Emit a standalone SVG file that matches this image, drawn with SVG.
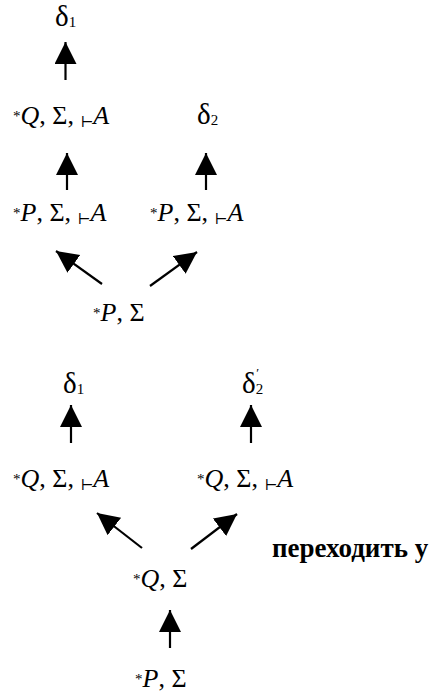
<svg xmlns="http://www.w3.org/2000/svg" width="438" height="692" viewBox="0 0 438 692">
<style>
text{font-family:"Liberation Serif","DejaVu Serif",serif;fill:#000}
.m{font-size:26px}
.d{font-size:29px}
.sub{font-size:15px}
.pr{font-size:13px}
.s{font-size:15px}
.t{font-size:15px;font-family:"DejaVu Serif",serif}
.i{font-style:italic}
.ru{font-size:27px;font-weight:bold}
.c line{stroke:#000;stroke-width:2.2}
</style>
<defs>
<marker id="ah" markerUnits="userSpaceOnUse" markerWidth="24" markerHeight="24" refX="22" refY="11" orient="auto" viewBox="0 0 24 24">
<path d="M0,0 L22,11 L0,22 z" fill="#000"/>
</marker>
</defs>
<rect width="438" height="692" fill="#fff"/>
<g class="c" id="connectors">
<line x1="65.5" y1="80" x2="65.5" y2="42" marker-end="url(#ah)"/>
<line x1="67" y1="190" x2="67" y2="153" marker-end="url(#ah)"/>
<line x1="206" y1="190" x2="206" y2="153" marker-end="url(#ah)"/>
<line x1="102" y1="284" x2="56" y2="251" marker-end="url(#ah)"/>
<line x1="150" y1="286" x2="197" y2="252" marker-end="url(#ah)"/>
<line x1="71" y1="443" x2="71" y2="405" marker-end="url(#ah)"/>
<line x1="251" y1="443" x2="251" y2="405" marker-end="url(#ah)"/>
<line x1="142" y1="548" x2="97" y2="513" marker-end="url(#ah)"/>
<line x1="191" y1="549" x2="237" y2="514" marker-end="url(#ah)"/>
<line x1="170" y1="648" x2="170" y2="610" marker-end="url(#ah)"/>
</g>
<g id="n1"><text class="d" x="55" y="26">δ<tspan class="sub" dy="1">1</tspan></text></g>
<g id="n2"><text class="m" x="13" y="124"><tspan class="s" dy="-3">*</tspan><tspan class="i" dy="3">Q</tspan>, Σ, <tspan class="t" dy="3">⊢</tspan><tspan class="i" dy="-3">A</tspan></text></g>
<g id="n3"><text class="d" x="197" y="124">δ<tspan class="sub" dy="1">2</tspan></text></g>
<g id="n4"><text class="m" x="13" y="221"><tspan class="s" dy="-3">*</tspan><tspan class="i" dy="3">P</tspan>, Σ, <tspan class="t" dy="3">⊢</tspan><tspan class="i" dy="-3">A</tspan></text></g>
<g id="n5"><text class="m" x="150" y="221"><tspan class="s" dy="-3">*</tspan><tspan class="i" dy="3">P</tspan>, Σ, <tspan class="t" dy="3">⊢</tspan><tspan class="i" dy="-3">A</tspan></text></g>
<g id="n6"><text class="m" x="93" y="321"><tspan class="s" dy="-3">*</tspan><tspan class="i" dy="3">P</tspan>, Σ</text></g>
<g id="n7"><text class="d" x="63" y="393">δ<tspan class="sub" dy="1">1</tspan></text></g>
<g id="n8"><text class="d" x="242" y="393">δ<tspan class="sub" dy="1">2</tspan><tspan class="pr" dx="-7" dy="-17">′</tspan></text></g>
<g id="n9"><text class="m" x="13" y="487"><tspan class="s" dy="-3">*</tspan><tspan class="i" dy="3">Q</tspan>, Σ, <tspan class="t" dy="3">⊢</tspan><tspan class="i" dy="-3">A</tspan></text></g>
<g id="n10"><text class="m" x="197" y="487"><tspan class="s" dy="-3">*</tspan><tspan class="i" dy="3">Q</tspan>, Σ, <tspan class="t" dy="3">⊢</tspan><tspan class="i" dy="-3">A</tspan></text></g>
<g id="n11"><text class="ru" x="272" y="557">переходить у</text></g>
<g id="n12"><text class="m" x="133" y="587"><tspan class="s" dy="-3">*</tspan><tspan class="i" dy="3">Q</tspan>, Σ</text></g>
<g id="n13"><text class="m" x="135" y="687"><tspan class="s" dy="-3">*</tspan><tspan class="i" dy="3">P</tspan>, Σ</text></g>
</svg>
